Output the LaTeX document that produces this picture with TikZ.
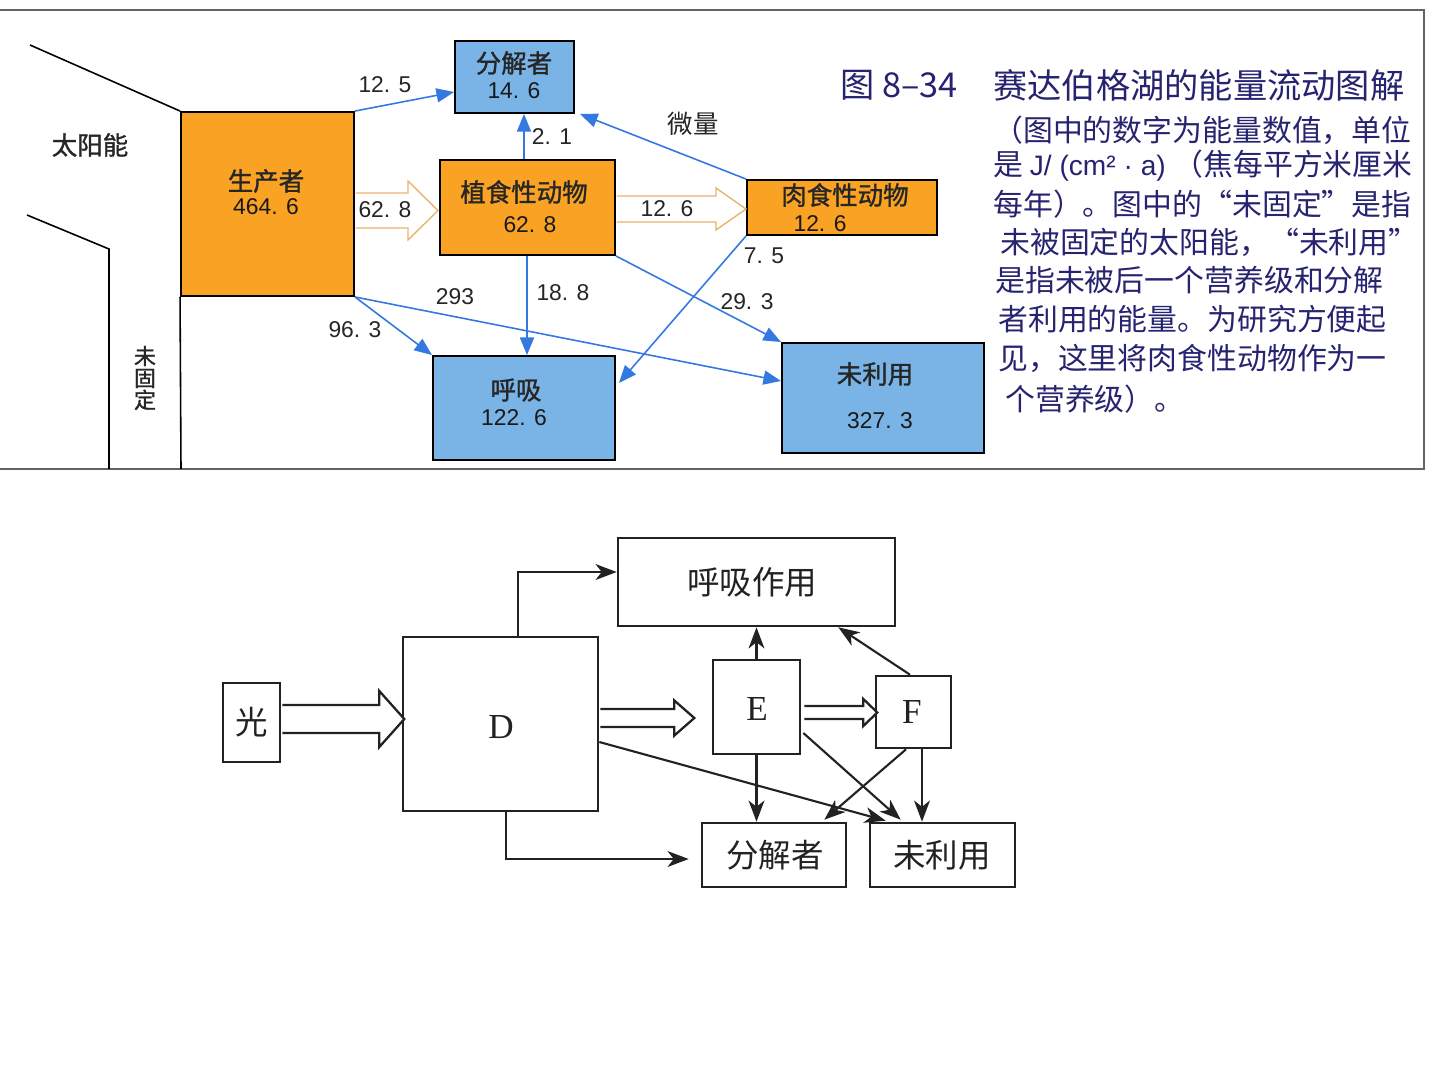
\documentclass[tikz,border=0pt]{standalone}
\usepackage{fontspec}
\setmainfont{Liberation Serif}
\newfontfamily\cjk{Noto Sans CJK SC}
\newfontfamily\cjkb[FakeBold=1.2]{Noto Sans CJK SC}
\newfontfamily\numf{Liberation Sans}
\usetikzlibrary{arrows.meta,calc,fit}
\definecolor{orangeF}{RGB}{249,162,35}
\definecolor{blueF}{RGB}{122,179,230}
\definecolor{arrowB}{RGB}{52,120,226}
\definecolor{navy}{RGB}{38,36,112}
\definecolor{hollowO}{RGB}{232,180,110}
\definecolor{ink}{RGB}{34,34,34}
\definecolor{frameG}{RGB}{100,100,100}
% hollow block arrow: style, start (centre of tail), length, half body, half head, head length
\newcommand{\harrow}[6]{%
  \filldraw[#1] (#2) ++(0,-#4) -- ++({#3-#6},0) -- ++(0,{-(#5-#4)}) -- ++(#6,#5) -- ++(-#6,#5) -- ++(0,{-(#5-#4)}) -- ++({-(#3-#6)},0);
}
\begin{document}
\begin{tikzpicture}[x=0.02cm,y=-0.02cm,
  obox/.style={draw=black, line width=1.1pt, fill=orangeF, inner sep=0pt},
  bbox/.style={draw=black, line width=1.1pt, fill=blueF, inner sep=0pt},
  barr/.style={draw=arrowB, line width=0.9pt, -{Triangle[length=10pt,width=8pt]}},
  hollowtop/.style={draw=hollowO, line width=0.8pt, fill=white},
  hollowbot/.style={draw=ink, line width=1.3pt, fill=white},
  wbox/.style={draw=ink, line width=1.5pt, inner sep=0pt},
  karr/.style={draw=ink, line width=1.2pt, -{Stealth[length=12pt,width=9pt,inset=3.5pt]}},
  lab/.style={font=\numf\fontsize{13}{15}\selectfont, text=black!85, inner sep=0pt},
  boxtxt/.style={font=\cjkb\fontsize{14.5}{16}\selectfont, text=black!85, inner sep=0pt},
  boxnum/.style={font=\numf\fontsize{13}{15}\selectfont, text=black!90, inner sep=0pt},
  cjklab/.style={font=\cjk\fontsize{14.5}{16}\selectfont, text=black!85, inner sep=0pt},
  ttl/.style={font=\cjk\fontsize{19.5}{22}\selectfont, text=navy, inner sep=0pt, anchor=west},
  body/.style={font=\cjk\fontsize{17}{20}\selectfont, text=navy, inner sep=0pt, anchor=west},
  btxt/.style={font=\cjk\fontsize{18.5}{20}\selectfont, text=ink, inner sep=0pt},
  ltxt/.style={font=\rmfamily\fontsize{20}{22}\selectfont, text=ink, inner sep=0pt}
]
\useasboundingbox (0,0) rectangle (1440,1080);
\fill[white] (0,0) rectangle (1440,1080);

% ---------- top panel frame ----------
\draw[frameG, line width=0.9pt] (0,10) -- (1424,10) -- (1424,469) -- (0,469);

% ---------- top diagram boxes ----------
\node[obox, fit={(181,112) (354,296)}] (prod) {};
\node[bbox, fit={(455,41) (574,113)}] (dec) {};
\node[obox, fit={(440,160) (615,255)}] (herb) {};
\node[obox, fit={(747,180) (937,235)}] (carn) {};
\node[bbox, fit={(433,356) (615,460)}] (resp) {};
\node[bbox, fit={(782,343) (984,453)}] (unused) {};

% sunlight lines
\draw[black, line width=0.9pt] (30,45) -- (prod.north west);
\draw[black, line width=0.9pt] (27,215) -- (109,249) -- (109,469);
\draw[black, line width=0.9pt] (prod.south west) -- (181,469);

% texts in boxes
\node[boxtxt] (prodT) at (266,181) {生产者};
\node[boxnum] (prodN) at (266,207) {464. 6};
\node[boxtxt] (decT) at (514,63) {分解者};
\node[boxnum] (decN) at (514,91) {14. 6};
\node[boxtxt] (herbT) at (524,192) {植食性动物};
\node[boxnum] (herbN) at (530,225) {62. 8};
\node[boxtxt] (carnT) at (845,195) {肉食性动物};
\node[boxnum] (carnN) at (820,224) {12. 6};
\node[boxtxt] (respT) at (516,390) {呼吸};
\node[boxnum] (respN) at (514,418) {122. 6};
\node[boxtxt] (unT) at (875,374) {未利用};
\node[boxnum] (unN) at (880,421) {327. 3};
\node[boxtxt] (sun) at (90,145) {太阳能};
\node[font=\cjkb\fontsize{12.5}{12.5}\selectfont, text=black!85, align=center, inner sep=0pt] (unfix) at (145,378) {未\\固\\定};

% hollow arrows (top)
\harrow{hollowtop}{$(prod.east)+(1,6.5)$}{82}{17.5}{29.5}{30}
\harrow{hollowtop}{$(herb.east)+(1,1.5)$}{129}{13}{21}{30}

% blue arrows
\coordinate (decIn) at ($(dec.west)+(0,15)$);
\draw[barr] (prod.north east) -- (decIn);
\coordinate (herbUp) at ($(herb.north)+(-3.5,0)$);
\draw[barr] (herbUp) -- (herbUp |- dec.south);
\coordinate (decSE) at ($(dec.south east)+(5,0)$);
\draw[barr] (carn.north west) -- (decSE);
\coordinate (herbDn) at ($(herb.south)+(-0.5,0)$);
\draw[barr] (herbDn) -- (herbDn |- resp.north);
\draw[barr] (herb.south east) -- (unused.north west);
\coordinate (respIn) at ($(resp.east)+(3,-25)$);
\draw[barr] (carn.south west) -- (respIn);
\coordinate (unIn) at ($(unused.west)+(0,-17)$);
\draw[barr] (prod.south east) -- (unIn);
\draw[barr] (prod.south east) -- (resp.north west);

% arrow labels
\node[lab] (l1) at (385,85) {12. 5};
\node[lab] (l2) at (385,210) {62. 8};
\node[lab] (l3) at (552,137) {2. 1};
\node[cjklab] (l4) at (693,124) {微量};
\node[lab] (l5) at (667,209) {12. 6};
\node[lab] (l6) at (563,293) {18. 8};
\node[lab] (l7) at (747,302) {29. 3};
\node[lab] (l8) at (764,256) {7. 5};
\node[lab] (l9) at (455,297) {293};
\node[lab] (l10) at (355,330) {96. 3};

% caption text
\node[ttl] (fig) at (840,85) {图 8–34};
\node[ttl] (title) at (993,85) {赛达伯格湖的能量流动图解};
\node[body] (b1) at (993,130) {（图中的数字为能量数值，单位};
\node[body] (b2) at (993,166) {是 {\numf\fontsize{16}{18}\selectfont J/ (cm² · a) }（焦每平方米厘米};
\node[body] (b3) at (993,204) {每年）。图中的“未固定”是指};
\node[body] (b4) at (1000,242) {未被固定的太阳能，“未利用”};
\node[body] (b5) at (995,280) {是指未被后一个营养级和分解};
\node[body] (b6) at (998,319) {者利用的能量。为研究方便起};
\node[body] (b7) at (998,358) {见，这里将肉食性动物作为一};
\node[body] (b8) at (1005,399) {个营养级）。};

% ---------- bottom diagram ----------
\node[wbox, fit={(223,683) (280,762)}] (light) {};
\node[wbox, fit={(403,637) (598,811)}] (D) {};
\node[wbox, fit={(618,538) (895,626)}] (R) {};
\node[wbox, fit={(713,660) (800,754)}] (E) {};
\node[wbox, fit={(876,676) (951,748)}] (F) {};
\node[wbox, fit={(702,823) (846,887)}] (dec2) {};
\node[wbox, fit={(870,823) (1015,887)}] (un2) {};
\node[btxt] (lightT) at (252,722) {光};
\node[ltxt] (DT) at (501,727) {D};
\node[btxt] (RT) at (752,582) {呼吸作用};
\node[ltxt] (ET) at (757,709) {E};
\node[ltxt] (FT) at (912,712) {F};
\node[btxt] (dec2T) at (775,855) {分解者};
\node[btxt] (un2T) at (942,855) {未利用};

% hollow arrows (bottom)
\harrow{hollowbot}{$(light.east)+(1,-3.5)$}{122}{14}{28}{25}
\harrow{hollowbot}{$(D.east)+(1,-6)$}{94}{9}{17.5}{20}
\harrow{hollowbot}{$(E.east)+(3,5.5)$}{73}{6.5}{13.5}{14}

% line arrows
\coordinate (Dtop) at ($(D.north)+(17.5,0)$);
\coordinate (Rin) at ($(R.west)+(0,-10)$);
\draw[karr] (Dtop) |- (Rin);
\coordinate (Dbot) at ($(D.south)+(5.5,0)$);
\coordinate (dec2in) at ($(dec2.west)+(-12,4)$);
\draw[karr] (Dbot) |- (dec2in);
\coordinate (Dr) at ($(D.east)+(0,18)$);
\coordinate (un2a) at ($(un2.north west)+(17,-1)$);
\draw[karr] (Dr) -- (un2a);
\draw[karr] (E.north) -- (E.north |- R.south);
\coordinate (Ft) at ($(F.north)+(-3.5,0)$);
\coordinate (Rse) at ($(R.south east)+(-58,0)$);
\draw[karr] (Ft) -- (Rse);
\draw[karr] (E.south) -- (E.south |- dec2.north);
\coordinate (Fbl) at ($(F.south)+(-7.5,0)$);
\coordinate (dec2ne) at ($(dec2.north east)+(-23,-2)$);
\draw[karr] (Fbl) -- (dec2ne);
\coordinate (Fbr) at ($(F.south)+(8.5,0)$);
\draw[karr] (Fbr) -- (Fbr |- un2.north);
\coordinate (Er) at ($(E.east)+(2,26)$);
\coordinate (un2b) at ($(un2.north west)+(32,-2)$);
\draw[karr] (Er) -- (un2b);
\end{tikzpicture}
\end{document}
